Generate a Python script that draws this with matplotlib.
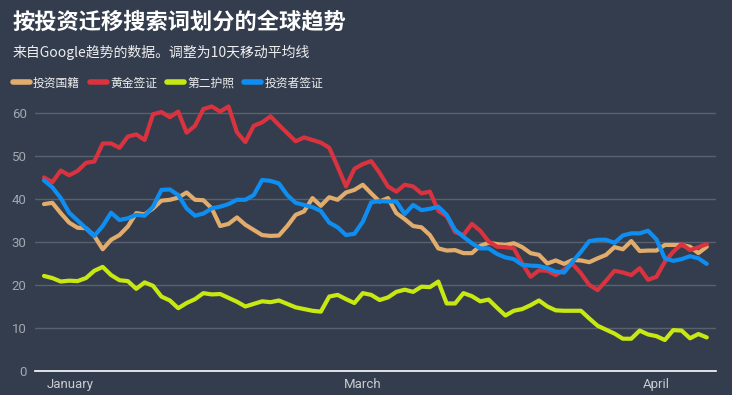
import matplotlib
matplotlib.use('Agg')
import matplotlib.pyplot as plt
import numpy as np

plt.rcParams['font.family'] = ['Noto Sans CJK SC', 'DejaVu Sans']

# 10-day moving averages
investment_citizenship = [38.8, 39.1, 36.7, 34.5, 33.3, 33.2, 31.4, 28.3, 30.5, 31.6,
                          33.6, 36.7, 36.4, 37.8, 39.6, 39.8, 40.3, 41.5, 39.8, 39.7,
                          37.8, 33.7, 34.2, 35.7, 34.0, 32.8, 31.6, 31.4, 31.5, 33.7,
                          36.3, 37.1, 40.2, 38.4, 40.4, 39.8, 41.5, 42.1, 43.3, 41.3,
                          39.4, 40.2, 36.7, 35.3, 33.7, 33.4, 31.6, 28.5, 28.0, 28.1,
                          27.4, 27.4, 29.1, 29.8, 29.5, 29.3, 29.7, 28.8, 27.4, 27.0,
                          25.0, 25.7, 24.9, 25.8, 25.7, 25.3, 26.2, 27.0, 28.8, 28.3,
                          30.2, 27.9, 28.0, 28.0, 29.3, 29.3, 29.3, 28.9, 27.4, 28.9]
golden_visa = [45.0, 43.9, 46.6, 45.5, 46.5, 48.4, 48.7, 52.9, 52.9, 51.9,
               54.5, 55.0, 53.7, 59.7, 60.2, 59.0, 60.3, 55.4, 57.0, 60.9,
               61.5, 60.3, 61.5, 55.5, 53.2, 57.0, 57.8, 59.2, 57.2, 55.3,
               53.4, 54.3, 53.7, 53.1, 51.9, 47.5, 42.9, 47.0, 48.1, 48.8,
               46.1, 42.9, 41.7, 43.3, 42.9, 41.3, 41.7, 37.2, 36.0, 32.3,
               31.6, 34.2, 32.6, 30.1, 28.9, 28.8, 28.5, 25.0, 21.9, 23.4,
               23.3, 22.3, 23.6, 24.9, 22.7, 20.0, 18.8, 21.0, 23.3, 22.9,
               22.3, 23.9, 21.2, 21.9, 25.4, 27.7, 29.5, 28.1, 28.8, 29.5]
second_passport = [22.1, 21.6, 20.8, 21.0, 20.9, 21.6, 23.3, 24.2, 22.3, 21.1,
                   20.9, 19.1, 20.6, 19.8, 17.3, 16.4, 14.6, 15.8, 16.7, 18.1,
                   17.8, 17.9, 17.0, 16.1, 15.0, 15.6, 16.2, 16.0, 16.4, 15.6,
                   14.8, 14.4, 14.0, 13.8, 17.3, 17.7, 16.7, 15.8, 18.1, 17.7,
                   16.5, 17.1, 18.4, 18.9, 18.4, 19.6, 19.5, 20.8, 15.7, 15.7,
                   18.1, 17.4, 16.2, 16.6, 14.7, 12.9, 14.0, 14.4, 15.3, 16.4,
                   15.0, 14.1, 14.0, 14.0, 14.0, 12.2, 10.5, 9.6, 8.7, 7.5,
                   7.5, 9.4, 8.5, 8.1, 7.2, 9.5, 9.4, 7.6, 8.6, 7.8]
investor_visa = [44.3, 42.7, 40.2, 36.8, 35.0, 33.2, 31.4, 33.7, 36.8, 35.1,
                 35.5, 36.3, 36.1, 38.2, 42.1, 42.2, 40.9, 37.8, 36.1, 36.6,
                 37.8, 38.2, 38.8, 39.8, 39.8, 40.9, 44.4, 44.2, 43.6, 40.9,
                 39.1, 38.6, 38.1, 37.2, 34.5, 33.4, 31.6, 31.9, 34.7, 39.2,
                 39.5, 39.4, 39.4, 36.5, 38.6, 37.4, 37.7, 38.2, 36.3, 32.8,
                 31.2, 29.7, 28.5, 28.5, 27.2, 26.4, 26.0, 24.7, 24.5, 24.4,
                 23.9, 23.1, 22.9, 25.4, 27.7, 30.2, 30.5, 30.5, 29.8, 31.5,
                 32.0, 32.0, 32.6, 30.6, 26.2, 25.6, 26.0, 26.7, 26.2, 24.9]

series_names = ['投资国籍', '黄金签证', '第二护照', '投资者签证']
series_colors = ['#e2ad6c', '#d9333f', '#c8e812', '#0f8ef2']
month_labels = ['January', 'March', 'April']
month_pos = [3.1, 38.0, 73.0]

bg = '#333d4d'
fig = plt.figure(figsize=(7.32, 3.95), dpi=100, facecolor=bg)
ax = fig.add_axes([35/732, 24/395, 681/732, 271/395], facecolor=bg)

x = np.arange(len(golden_visa))
for vals, name, col in zip([investment_citizenship, golden_visa, second_passport, investor_visa],
                           series_names, series_colors):
    ax.plot(x, vals, color=col, lw=3, label=name, solid_joinstyle='round',
            solid_capstyle='round')

ax.set_xlim(-1.07, 80.1)
ax.set_ylim(0, 63)
ax.set_yticks([0, 10, 20, 30, 40, 50, 60])
ax.set_xticks(month_pos)
ax.set_xticklabels(month_labels)
ax.grid(axis='y', color='#59616e', lw=1)
ax.set_axisbelow(True)
for s in ['top', 'right', 'left']:
    ax.spines[s].set_visible(False)
ax.spines['bottom'].set_color('white')
ax.spines['bottom'].set_linewidth(1.2)
ax.tick_params(length=0)
ax.tick_params(axis='y', colors='#a3a8b0', labelsize=9.5, pad=6)
ax.tick_params(axis='x', colors='#c9ccd1', labelsize=9.5, pad=5)
for lab in ax.get_xticklabels() + ax.get_yticklabels():
    lab.set_family(['Roboto', 'DejaVu Sans'])

fig.text(13/732, 1 - 22/395, '按投资迁移搜索词划分的全球趋势', color='white',
         fontsize=16, fontweight='bold', va='center', ha='left')
fig.text(13/732, 1 - 52/395, '来自Google趋势的数据。调整为10天移动平均线', color='#eeeeee',
         fontsize=10, va='center', ha='left')

leg = fig.legend(loc='center left', bbox_to_anchor=(8/732, 1 - 83/395), ncol=4,
                 frameon=False, handlelength=1.45, handletextpad=0.25,
                 columnspacing=0.85, fontsize=8.5, labelcolor='#eeeeee',
                 borderaxespad=0)
for h in leg.get_lines():
    h.set_linewidth(4)
    h.set_solid_capstyle('round')

fig.savefig('out.png', dpi=100, facecolor=bg)
